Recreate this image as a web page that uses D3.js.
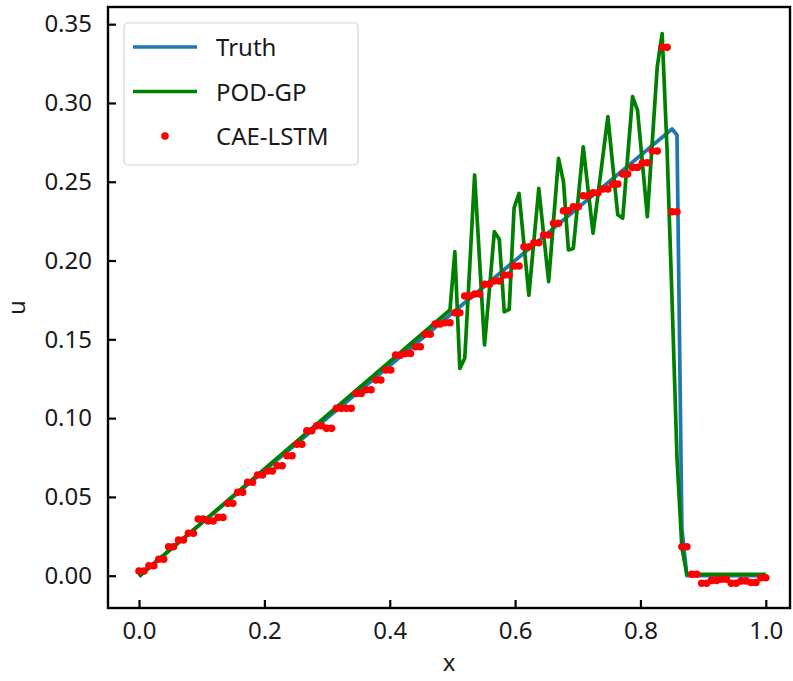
<!DOCTYPE html>
<html>
<head>
<meta charset="utf-8">
<script src="https://cdn.jsdelivr.net/npm/d3@7"></script>
<style>
  html, body { margin: 0; padding: 0; background: #ffffff; }
  svg { display: block; }
  text { font-family: "Noto Sans", "Open Sans", sans-serif; fill: #1a1a1a; }
</style>
</head>
<body>
<svg id="chart" width="793" height="681"></svg>
<script>
// ---- data ----------------------------------------------------------
// Truth: vertices of the exact solution (straight ramp, then the shock)
const truthX = [0, 0.8504, 0.8583, 0.8661, 0.8740, 1.0];
const truthU = [0, 0.2835, 0.2797, 0.0300, 0.0000, 0.0];

// POD-GP: ramp up to x≈0.496, then grid-point oscillations, shock and flat tail
const podX = [0, 0.4961, 0.5039, 0.5118, 0.5197, 0.5276, 0.5354, 0.5433, 0.5512, 0.5591,
  0.5669, 0.5748, 0.5827, 0.5906, 0.5984, 0.6063, 0.6142, 0.6220, 0.6299, 0.6378,
  0.6457, 0.6535, 0.6614, 0.6693, 0.6772, 0.6850, 0.6929, 0.7008, 0.7087, 0.7165,
  0.7244, 0.7323, 0.7402, 0.7480, 0.7559, 0.7638, 0.7717, 0.7795, 0.7874, 0.7953,
  0.8031, 0.8110, 0.8189, 0.8268, 0.8346, 0.8425, 0.8504, 0.8583, 0.8661, 0.8740, 1.0];
const podU = [-0.0005, 0.1686, 0.2056, 0.1316, 0.1380, 0.1960, 0.2543, 0.2003, 0.1464, 0.1820,
  0.2183, 0.2135, 0.1675, 0.1690, 0.2335, 0.2426, 0.2100, 0.1780, 0.2120, 0.2458,
  0.2160, 0.1866, 0.2257, 0.2648, 0.2500, 0.2067, 0.2077, 0.2400, 0.2722, 0.2447,
  0.2173, 0.2420, 0.2666, 0.2913, 0.2600, 0.2290, 0.2268, 0.2654, 0.3040, 0.2955,
  0.2620, 0.2278, 0.2755, 0.3230, 0.3440, 0.2700, 0.1750, 0.0750, 0.0180, 0.0009, 0.0009];

// CAE-LSTM: prediction at each of the 128 grid nodes on [0, 1]
const caeU = [
  0.0030, 0.0030, 0.0063, 0.0063, 0.0104, 0.0104, 0.0184, 0.0184,
  0.0227, 0.0227, 0.0269, 0.0269, 0.0360, 0.0360, 0.0347, 0.0347,
  0.0370, 0.0370, 0.0459, 0.0459, 0.0529, 0.0529, 0.0593, 0.0593,
  0.0639, 0.0639, 0.0664, 0.0664, 0.0698, 0.0698, 0.0761, 0.0761,
  0.0834, 0.0834, 0.0920, 0.0920, 0.0952, 0.0952, 0.0935, 0.0935,
  0.1062, 0.1062, 0.1062, 0.1062, 0.1157, 0.1157, 0.1180, 0.1180,
  0.1242, 0.1242, 0.1305, 0.1305, 0.1400, 0.1400, 0.1410, 0.1410,
  0.1453, 0.1453, 0.1532, 0.1532, 0.1597, 0.1597, 0.1605, 0.1605,
  0.1669, 0.1669, 0.1775, 0.1775, 0.1788, 0.1788, 0.1849, 0.1849,
  0.1870, 0.1870, 0.1908, 0.1908, 0.1965, 0.1965, 0.2088, 0.2088,
  0.2113, 0.2113, 0.2162, 0.2162, 0.2236, 0.2236, 0.2316, 0.2316,
  0.2341, 0.2341, 0.2411, 0.2411, 0.2430, 0.2430, 0.2454, 0.2454,
  0.2485, 0.2485, 0.2549, 0.2549, 0.2591, 0.2591, 0.2621, 0.2621,
  0.2695, 0.2695, 0.3353, 0.3353, 0.2310, 0.2310, 0.0184, 0.0184,
  0.0009, 0.0009, -0.0048, -0.0048, -0.0030, -0.0030, -0.0023, -0.0023,
  -0.0048, -0.0048, -0.0033, -0.0033, -0.0043, -0.0043, -0.0013, -0.0013
];
const caeX = d3.range(caeU.length).map(i => i / (caeU.length - 1));

const xTicks = [0.0, 0.2, 0.4, 0.6, 0.8, 1.0];
const yTicks = [0.00, 0.05, 0.10, 0.15, 0.20, 0.25, 0.30, 0.35];

const seriesNames = ["Truth", "POD-GP", "CAE-LSTM"];
const colors = { truth: "#1f77b4", pod: "#008000", cae: "#ff0000" };

// ---- layout --------------------------------------------------------
const box = { left: 108, right: 790, top: 7, bottom: 608 };
const svg = d3.select("#chart");

const x = d3.scaleLinear().domain([-0.0495, 1.0386]).range([box.left, box.right]);
const y = d3.scaleLinear().domain([-0.0205, 0.3609]).range([box.bottom, box.top]);

const plot = svg.append("g");
plot.append("clipPath").attr("id", "clip")
  .append("rect").attr("x", box.left).attr("y", box.top)
  .attr("width", box.right - box.left).attr("height", box.bottom - box.top);

const line = d3.line().x(d => x(d[0])).y(d => y(d[1]));
const inner = plot.append("g").attr("clip-path", "url(#clip)");
const lineWidth = 3.7;

inner.append("path")
  .datum(truthX.map((v, i) => [v, truthU[i]]))
  .attr("d", line).attr("fill", "none")
  .attr("stroke", colors.truth).attr("stroke-width", lineWidth)
  .attr("stroke-linejoin", "round");

inner.append("path")
  .datum(podX.map((v, i) => [v, podU[i]]))
  .attr("d", line).attr("fill", "none")
  .attr("stroke", colors.pod).attr("stroke-width", lineWidth)
  .attr("stroke-linejoin", "round");

inner.append("g").selectAll("circle")
  .data(caeX.map((v, i) => [v, caeU[i]]))
  .join("circle")
  .attr("cx", d => x(d[0])).attr("cy", d => y(d[1]))
  .attr("r", 3.8).attr("fill", colors.cae);

// ---- axes ----------------------------------------------------------
const tickLen = 8;
const xAxis = d3.axisBottom(x).tickValues(xTicks)
  .tickFormat(d3.format(".1f")).tickSizeInner(-tickLen).tickSizeOuter(0).tickPadding(14);
const yAxis = d3.axisLeft(y).tickValues(yTicks)
  .tickFormat(d3.format(".2f")).tickSizeInner(-tickLen).tickSizeOuter(0).tickPadding(16);

const gx = svg.append("g").attr("transform", `translate(0,${box.bottom})`).call(xAxis);
const gy = svg.append("g").attr("transform", `translate(${box.left},0)`).call(yAxis);
[gx, gy].forEach(g => {
  g.select(".domain").remove();
  g.selectAll(".tick line").attr("stroke", "#000").attr("stroke-width", 2.2);
  g.selectAll(".tick text").attr("font-size", 24).attr("fill", "#1a1a1a")
    .attr("font-family", "\"Noto Sans\", sans-serif");
});

// frame
svg.append("rect")
  .attr("x", box.left).attr("y", box.top)
  .attr("width", box.right - box.left).attr("height", box.bottom - box.top)
  .attr("fill", "none").attr("stroke", "#000").attr("stroke-width", 2.4);

// axis titles
svg.append("text").attr("x", (box.left + box.right) / 2).attr("y", 671)
  .attr("text-anchor", "middle").attr("font-size", 24).text("x");
svg.append("text")
  .attr("transform", `translate(25,${(box.top + box.bottom) / 2}) rotate(-90)`)
  .attr("text-anchor", "middle").attr("font-size", 24).text("u");

// ---- legend --------------------------------------------------------
const lg = svg.append("g");
lg.append("rect").attr("x", 124).attr("y", 23).attr("width", 234).attr("height", 142)
  .attr("rx", 4).attr("fill", "#ffffff").attr("fill-opacity", 0.8)
  .attr("stroke", "#d6d6d6").attr("stroke-width", 1.2);
const rowY = [47, 91.5, 136];
lg.append("line").attr("x1", 133).attr("x2", 197).attr("y1", rowY[0]).attr("y2", rowY[0])
  .attr("stroke", colors.truth).attr("stroke-width", lineWidth);
lg.append("line").attr("x1", 133).attr("x2", 197).attr("y1", rowY[1]).attr("y2", rowY[1])
  .attr("stroke", colors.pod).attr("stroke-width", lineWidth);
lg.append("circle").attr("cx", 165).attr("cy", rowY[2]).attr("r", 3.8).attr("fill", colors.cae);
seriesNames.forEach((name, i) => {
  lg.append("text").attr("x", 216).attr("y", rowY[i] + 9).attr("font-size", 24).text(name);
});
</script>
</body>
</html>
